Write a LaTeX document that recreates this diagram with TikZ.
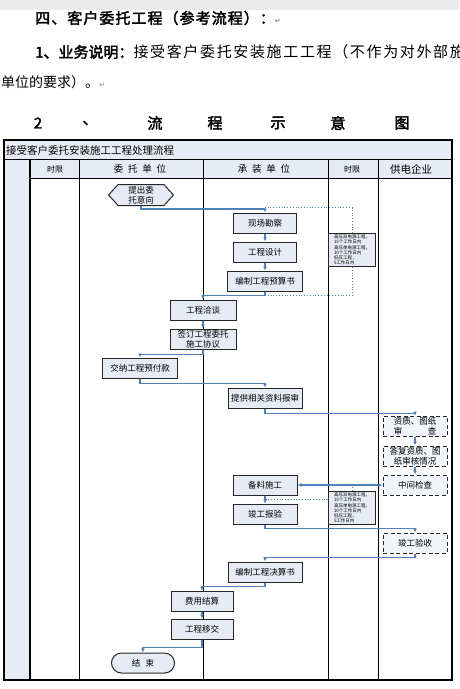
\documentclass[tikz,border=0pt]{standalone}
\usepackage{fontspec}
\setmainfont{Noto Sans CJK SC}[AutoFakeBold=2.5]
\newfontfamily\marksfont{DejaVu Sans}
\usepackage{xcolor}
\usepackage{tikz}
\usetikzlibrary{arrows.meta, shapes.symbols, calc}

\definecolor{boxfill}{HTML}{E6EBF5}
\definecolor{linkblue}{HTML}{4F81BD}
\definecolor{pagegrey}{HTML}{EBEBEB}

\newcommand{\retmark}{{\marksfont\color{gray}\fontsize{7}{7}\selectfont ↵}}
\newcommand{\limittext}{高压双电源工程，\\15个工作日内\\高压单电源工程，\\10个工作日内\\低压工程，\\5工作日内}

\tikzset{
  procbox/.style={draw=black!85, line width=1pt, fill=boxfill, minimum height=20pt,
    inner sep=1pt, align=center, font=\fontsize{8.5}{10}\selectfont},
  checkbox/.style={procbox, dash pattern=on 4pt off 2.5pt, fill=boxfill!50},
  timebox/.style={draw=black!85, line width=1pt, fill=boxfill, minimum width=47pt,
    minimum height=33pt, inner sep=1pt, align=left, font=\fontsize{4.5}{5.3}\selectfont},
  flow/.style={draw=linkblue, line width=1.1pt, -{Latex[length=4pt,width=4pt]}},
  dotlink/.style={draw=linkblue, line width=0.8pt, dotted},
  lane/.style={draw=black, line width=0.8pt},
}

\begin{document}
\begin{tikzpicture}[x=1pt, y=-1pt]
    \useasboundingbox (0,0) rectangle (459,689);
    % page band
    \fill[pagegrey] (0,0) rectangle (459,10);

    % heading text
    \node[anchor=west, inner sep=0, font=\bfseries\fontsize{15}{15}\selectfont] (head1) at (35,18) {{\addfontfeature{LetterSpace=7}四、客户委托工程（参考流程）：}\retmark};
    \begin{scope}
        \clip (0,30) rectangle (459,70);
        \node[anchor=west, inner sep=0, font=\fontsize{15}{15}\selectfont] (head2) at (35,52) {\textbf{1、业务说明：}{\addfontfeature{LetterSpace=11}接受客户委托安装施工工程（不作为对外部施}};
    \end{scope}
    \node[anchor=west, inner sep=0, font=\fontsize{14}{14}\selectfont] (head3) at (1,82) {单位的要求）。\retmark};
    \foreach \ch/\xx in {2/38, 、/90, 流/155, 程/215, 示/278, 意/338, 图/402}
        \node[font=\bfseries\fontsize{15}{15}\selectfont] (sub-\xx) at (\xx,123) {\ch};

    % swimlane frame
    \draw[line width=1.5pt, fill=boxfill] (4,140) rectangle (452,160);
    \node[anchor=west, inner sep=0, font=\fontsize{10.5}{10.5}\selectfont] (title) at (6,150) {接受客户委托安装施工工程处理流程};
    \fill[boxfill] (4,160) rectangle (30,680);
    \fill[boxfill] (30,160) rectangle (452,178);
    \draw[lane] (30,178) -- (452,178);
    \foreach \xx in {79,203,328,378} \draw[lane] (\xx,160) -- (\xx,680);
    \draw[line width=2pt] (30,160) -- (30,680);
    \draw[line width=1.5pt] (4,140) rectangle (452,680);

    % lane headers
    \node[font=\fontsize{8}{8}\selectfont] (h-time1) at (55,169) {时限};
    \node[font=\fontsize{9.5}{9.5}\selectfont] (h-client) at (140,169) {委\hspace{0.5em}托\hspace{0.5em}单\hspace{0.5em}位};
    \node[font=\fontsize{9.5}{9.5}\selectfont] (h-builder) at (264,169) {承\hspace{0.5em}装\hspace{0.5em}单\hspace{0.5em}位};
    \node[font=\fontsize{8}{8}\selectfont] (h-time2) at (352,169) {时限};
    \node[font=\fontsize{10.5}{10.5}\selectfont] (h-grid) at (411,169) {供电企业};

    % steps
    \node[procbox, shape=signal, signal to=east and west, signal pointer angle=95, minimum width=65pt, minimum height=21pt] (intent) at (141,195) {提出委\\托意向};
    \node[procbox, minimum width=63pt] (survey) at (265,223) {现场勘察};
    \node[procbox, minimum width=63pt] (design) at (265,252) {工程设计};
    \node[procbox, minimum width=75pt] (budget) at (265,281) {编制工程预算书};
    \node[timebox] (limit1) at (352,250) {\limittext};
    \node[procbox, minimum width=66pt] (talk) at (203,310) {工程洽谈};
    \node[procbox, minimum width=66pt] (sign) at (203,339) {签订工程委托\\施工协议};
    \node[procbox, minimum width=75pt] (prepay) at (140,368) {交纳工程预付款};
    \node[procbox, minimum width=74pt] (submit) at (265,398) {提供相关资料报审};
    \node[checkbox, minimum width=64pt] (review) at (415,426) {资质、图纸\\审\hspace{3em}查};
    \node[checkbox, minimum width=64pt] (reply) at (415,456) {答复资质、图\\纸审核情况};
    \node[checkbox, minimum width=64pt] (midcheck) at (415,485) {中间检查};
    \node[procbox, minimum width=64pt] (build) at (265,485) {备料施工};
    \node[procbox, minimum width=64pt] (report) at (265,514) {竣工报验};
    \node[timebox] (limit2) at (352,508) {\limittext};
    \node[checkbox, minimum width=64pt] (accept) at (415,543) {竣工验收};
    \node[procbox, minimum width=74pt] (final) at (265,572) {编制工程决算书};
    \node[procbox, minimum width=62pt] (settle) at (202,601) {费用结算};
    \node[procbox, minimum width=62pt] (handover) at (202,629) {工程移交};
    \node[procbox, rounded corners=10pt, minimum width=63pt] (finish) at (143,663) {结\hspace{0.6em}束};

    % flow
    \draw[flow] (intent.south) -- ++(0,3) -| (survey.north);
    \draw[flow] (survey) -- (design);
    \draw[flow] (design) -- (budget);
    \draw[flow] (budget.south) -- ++(0,4) -| (talk.north);
    \draw[flow] (talk) -- (sign);
    \draw[flow] (sign.south) -- ++(0,5) -| (prepay.north);
    \draw[flow] (prepay.south) -- ++(0,5) -| (submit.north);
    \draw[flow] (submit.south) -- ++(0,5) -| (review.north);
    \draw[flow] (review) -- (reply);
    \draw[flow] (reply) -- (midcheck);
    \draw[flow, {Latex[length=4pt,width=4pt]}-{Latex[length=4pt,width=4pt]}] (midcheck) -- (build);
    \draw[flow] (build) -- (report);
    \draw[flow] (report.south) -- ++(0,4) -| (accept.north);
    \draw[flow] (accept.south) -- ++(0,4) -| (final.north);
    \draw[flow] (final.south) -- ++(0,4) -| (settle.north);
    \draw[flow] (settle) -- (handover);
    \draw[flow] (handover.south) -- ++(0,8) -| (finish.north);

    % dotted links to time limits
    \draw[dotlink] (limit1.north) |- ($(survey.north)+(0,-5)$);
    \draw[dotlink] (limit1.south) |- ($(budget.south)+(0,4)$);
    \draw[dotlink] (limit2.north) -- (limit2.north |- midcheck.west);
    \coordinate (d2) at ($(build.south)+(0,4)$);
    \draw[dotlink] (limit2.west |- d2) -- (d2);
\end{tikzpicture}
\end{document}
